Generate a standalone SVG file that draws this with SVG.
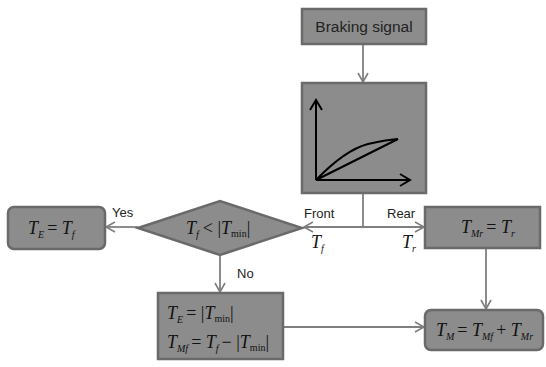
<svg xmlns="http://www.w3.org/2000/svg" width="546" height="367" viewBox="0 0 546 367">
<defs>
<marker id="ah" markerWidth="12" markerHeight="12" refX="10" refY="6" orient="auto" markerUnits="userSpaceOnUse">
<path d="M1,1 L10,6 L1,11" fill="none" stroke="#7f7f7f" stroke-width="1.6"/>
</marker>
<marker id="ax" markerWidth="14" markerHeight="14" refX="11" refY="7" orient="auto" markerUnits="userSpaceOnUse">
<path d="M1,1 L11,7 L1,13" fill="none" stroke="#000" stroke-width="2"/>
</marker>
</defs>
<style>
.n{fill:#8c8c8c;stroke:#6a6a6a;stroke-width:2.5}
.c{fill:none;stroke:#7f7f7f;stroke-width:1.8}
.t{font-family:"Liberation Sans",Arial,sans-serif;font-size:13px;fill:#222}
.b{font-size:15.5px}
.m{font-family:"Liberation Serif","Times New Roman",serif;font-size:18px;font-style:italic;fill:#111}
.s{font-size:10px}
.r{font-style:normal}
</style>
<rect width="546" height="367" fill="#fff"/>
<g id="connectors">
<line class="c" x1="363" y1="44" x2="363" y2="82" marker-end="url(#ah)"/>
<line class="c" x1="363" y1="194" x2="363" y2="227"/>
<line class="c" x1="363" y1="227" x2="304" y2="227" marker-end="url(#ah)"/>
<line class="c" x1="363" y1="227" x2="424" y2="227" marker-end="url(#ah)"/>
<line class="c" x1="138" y1="227" x2="106" y2="227" marker-end="url(#ah)"/>
<line class="c" x1="220" y1="256" x2="220" y2="292" marker-end="url(#ah)"/>
<line class="c" x1="284" y1="327" x2="424" y2="327" marker-end="url(#ah)"/>
<line class="c" x1="486" y1="249" x2="486" y2="309" marker-end="url(#ah)"/>
<text class="t" x="112" y="217">Yes</text>
<text class="t" x="237" y="278">No</text>
<text class="t" x="304" y="218">Front</text>
<text class="t" x="387" y="218">Rear</text>
<text class="m" x="311" y="248">T<tspan class="s" dy="4">f</tspan></text>
<text class="m" x="402" y="248">T<tspan class="s" dy="4">r</tspan></text>
</g>
<g id="braking">
<rect class="n" x="302" y="9" width="124" height="35"/>
<text class="t b" x="364" y="32" text-anchor="middle">Braking signal</text>
</g>
<g id="curve">
<rect class="n" x="302" y="83" width="124" height="110"/>
<line x1="316" y1="180" x2="316" y2="100" stroke="#000" stroke-width="2" marker-end="url(#ax)"/>
<line x1="316" y1="180" x2="410" y2="180" stroke="#000" stroke-width="2" marker-end="url(#ax)"/>
<path d="M316,180 Q345,150 368,144 Q385,140 398,139 Z" fill="none" stroke="#000" stroke-width="2"/>
</g>
<g id="decision">
<polygon class="n" points="138,228 220,201 302,228 220,255"/>
<text class="m" x="186" y="234">T<tspan class="s" dy="4">f</tspan><tspan class="r" dy="-4" dx="4">&lt; |</tspan>T<tspan class="s r" dy="3">min</tspan><tspan class="r" dy="-3">|</tspan></text>
</g>
<g id="te">
<rect class="n" x="8" y="207" width="97" height="42" rx="6"/>
<text class="m" x="28" y="234">T<tspan class="s" dy="4">E</tspan><tspan class="r" dy="-4" dx="3">= </tspan>T<tspan class="s" dy="4">f</tspan></text>
</g>
<g id="tmr">
<rect class="n" x="425" y="207" width="115" height="41"/>
<text class="m" x="461" y="233">T<tspan class="s" dy="4">Mr</tspan><tspan class="r" dy="-4" dx="3">= </tspan>T<tspan class="s" dy="4">r</tspan></text>
</g>
<g id="tmf">
<rect class="n" x="158" y="293" width="125" height="66"/>
<text class="m" x="167" y="319">T<tspan class="s" dy="4">E</tspan><tspan class="r" dy="-4" dx="3">= |</tspan>T<tspan class="s r" dy="3">min</tspan><tspan class="r" dy="-3">|</tspan></text>
<text class="m" x="167" y="348">T<tspan class="s" dy="4">Mf</tspan><tspan class="r" dy="-4" dx="3">= </tspan>T<tspan class="s" dy="4">f</tspan><tspan class="r" dy="-4" dx="3">− |</tspan>T<tspan class="s r" dy="3">min</tspan><tspan class="r" dy="-3">|</tspan></text>
</g>
<g id="tm">
<rect class="n" x="425" y="310" width="118" height="40" rx="6"/>
<text class="m" x="436" y="336">T<tspan class="s" dy="4">M</tspan><tspan class="r" dy="-4" dx="3">= </tspan>T<tspan class="s" dy="4">Mf</tspan><tspan class="r" dy="-4" dx="3">+ </tspan>T<tspan class="s" dy="4">Mr</tspan></text>
</g>
</svg>
